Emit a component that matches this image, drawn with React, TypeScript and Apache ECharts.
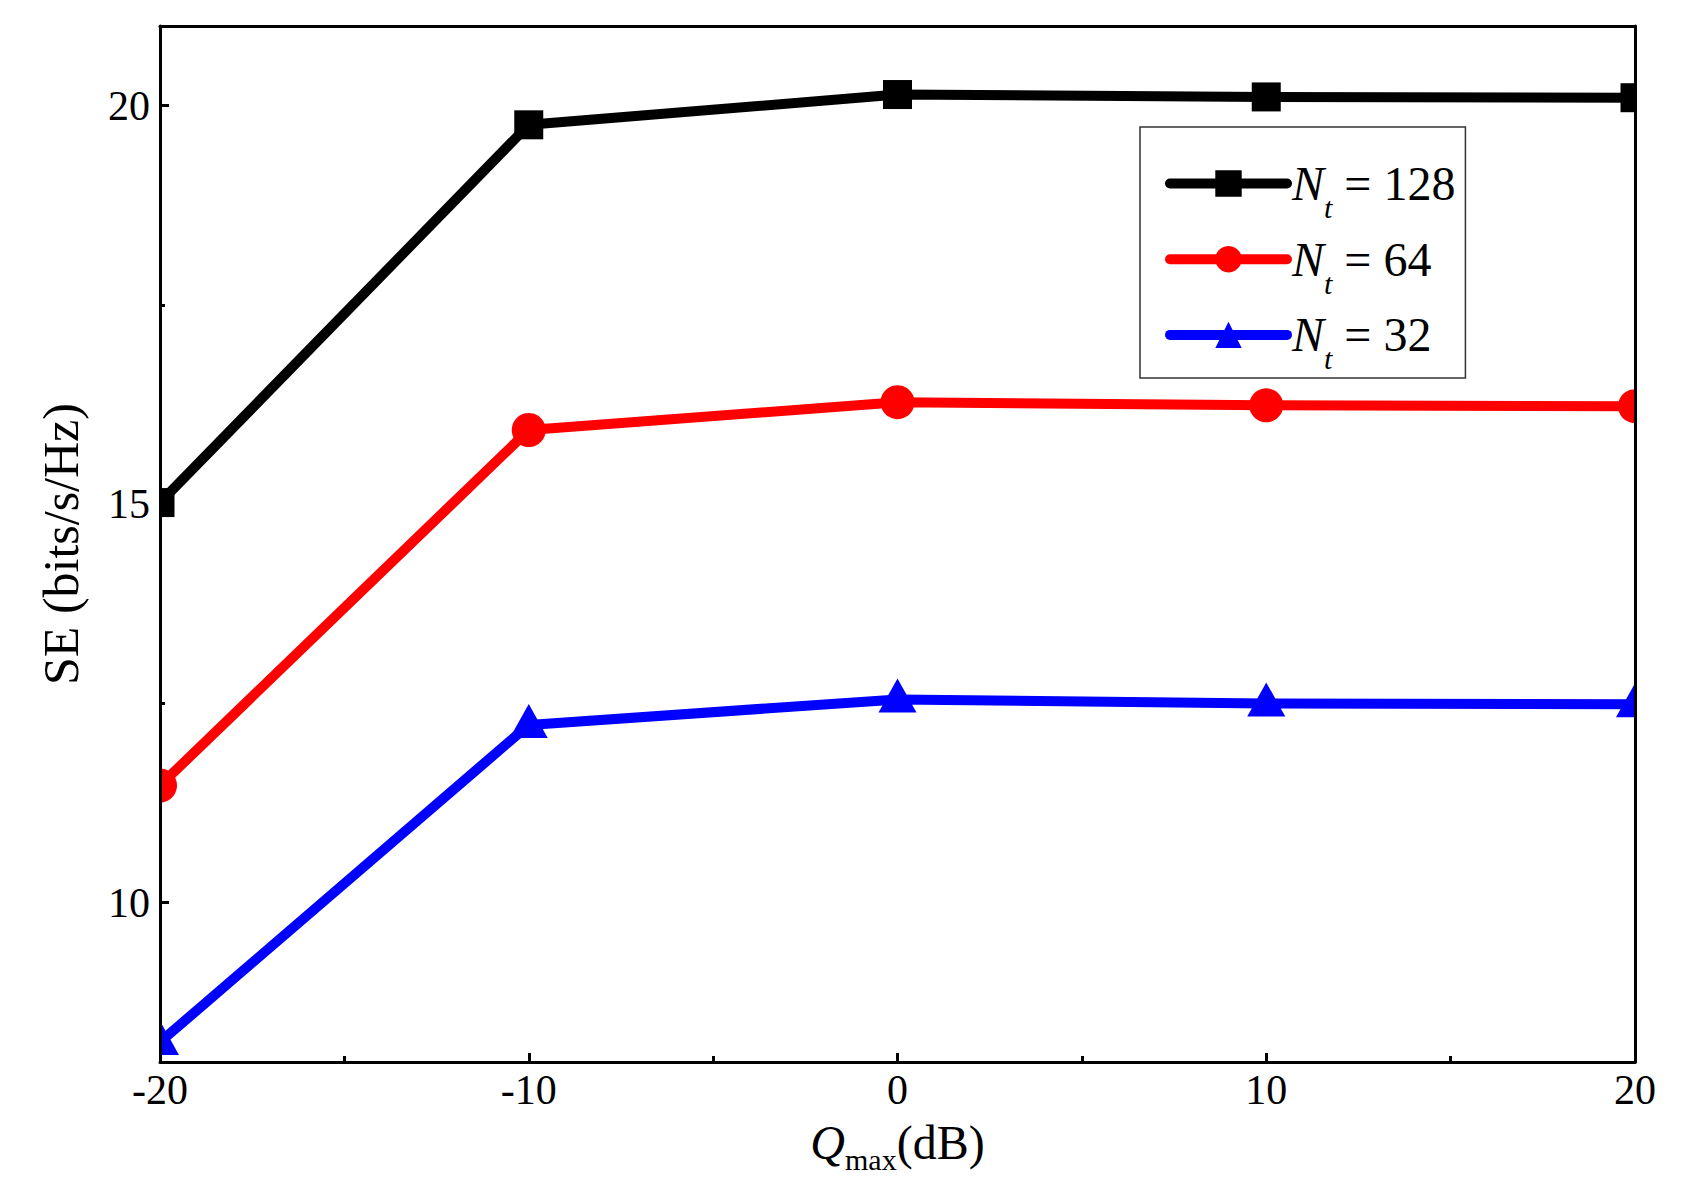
import React, { useEffect, useRef } from "react";
import * as echarts from "echarts";

const xValues = [-20, -10, 0, 10, 20];
const seriesNames = ["Nt = 128", "Nt = 64", "Nt = 32"];
const ntLabels = ["128", "64", "32"];
const se128 = [15.02, 19.76, 20.14, 20.11, 20.1];
const se64 = [11.47, 15.93, 16.28, 16.24, 16.23];
const se32 = [8.25, 12.23, 12.55, 12.5, 12.49];
const yTickValues = [10, 15, 20];
const yMinorTickValues = [12.5, 17.5];
const colors = ["#000000", "#ff0000", "#0000ff"];
const symbols = ["rect", "circle", "triangle"];

export default function App() {
  const ref = useRef<HTMLDivElement>(null);
  useEffect(() => {
    const chart = echarts.init(ref.current!, null, { renderer: "svg" });
    const font = "Liberation Serif";
    const W = 1696;
    const H = 1192;
    const gl = 160;
    const gr = 61;
    const gt = 26;
    const gb = 130;
    const seriesData = [se128, se64, se32];
    const symbolSizes: any[] = [29, 34, [38, 34]];
    const symbolOffsets: any[] = [[0, 0], [0, 0], [0, -4]];
    const axisLineStyle = { color: "#000", width: 3 };
    const mask = (x: number, y: number, w: number, h: number) => ({
      type: "rect",
      shape: { x, y, width: w, height: h },
      style: { fill: "#fff" },
      z: 3,
      silent: true,
    });
    const option: any = {
      animation: false,
      backgroundColor: "#fff",
      textStyle: { fontFamily: font, color: "#000" },
      grid: { left: gl, right: gr, top: gt, bottom: gb },
      graphic: {
        elements: [
          mask(0, 0, gl, H),
          mask(W - gr, 0, gr, H),
          mask(0, 0, W, gt),
          mask(0, H - gb, W, gb),
        ],
      },
      legend: {
        left: 1140,
        top: 127,
        orient: "vertical",
        z: 5,
        padding: [24.5, 10, 4, 25],
        borderColor: "#333",
        borderWidth: 1.5,
        backgroundColor: "#fff",
        itemWidth: 117,
        itemHeight: 33,
        itemGap: 4.7,
        data: seriesNames,
        lineStyle: { width: 10, cap: "round" },
        formatter: (name: string) => {
          const i = seriesNames.indexOf(name);
          return `{n|N}{t|t}{v| = ${ntLabels[i]}}`;
        },
        textStyle: {
          fontFamily: font,
          color: "#000",
          rich: {
            n: { fontFamily: font, fontStyle: "italic", fontSize: 48, lineHeight: 64, verticalAlign: "middle", color: "#000" },
            t: { fontFamily: font, fontStyle: "italic", fontSize: 30, lineHeight: 20, verticalAlign: "top", padding: [41, 0, 0, 0], color: "#000" },
            v: { fontFamily: font, fontSize: 48, lineHeight: 64, verticalAlign: "middle", color: "#000" },
          },
        },
      },
      xAxis: [
        {
          type: "value",
          position: "bottom",
          min: -20,
          max: 20,
          interval: 10,
          z: 4,
          axisLine: { show: true, onZero: false, lineStyle: axisLineStyle },
          axisTick: { show: true, inside: true, length: 9, lineStyle: { color: "#000", width: 3 } },
          minorTick: { show: true, splitNumber: 2, length: 6, lineStyle: { color: "#000", width: 3 } },
          splitLine: { show: false },
          axisLabel: { fontFamily: font, fontSize: 42, lineHeight: 42, color: "#000", margin: 7 },
          name: "{q|Q}{s|max}{d|(dB)}",
          nameLocation: "middle",
          nameGap: 48,
          nameTextStyle: {
            rich: {
              q: { fontFamily: font, fontStyle: "italic", fontSize: 48, lineHeight: 64, verticalAlign: "middle", color: "#000" },
              s: { fontFamily: font, fontSize: 30, lineHeight: 28, verticalAlign: "bottom", color: "#000" },
              d: { fontFamily: font, fontSize: 48, lineHeight: 64, verticalAlign: "middle", color: "#000" },
            },
          },
        },
        {
          type: "value",
          position: "top",
          min: -20,
          max: 20,
          interval: 10,
          z: 4,
          axisLine: { show: true, onZero: false, lineStyle: axisLineStyle },
          axisTick: { show: false },
          axisLabel: { show: false },
          splitLine: { show: false },
        },
      ],
      yAxis: [
        {
          type: "value",
          position: "left",
          min: 8,
          max: 21,
          z: 4,
          axisLine: { show: true, onZero: false, lineStyle: axisLineStyle },
          axisTick: { show: true, inside: true, length: 9, customValues: yTickValues, lineStyle: { color: "#000", width: 3 } },
          axisLabel: { fontFamily: font, fontSize: 42, color: "#000", margin: 10, customValues: yTickValues },
          splitLine: { show: false },
          name: "SE (bits/s/Hz)",
          nameLocation: "middle",
          nameGap: 74,
          nameTextStyle: { fontFamily: font, fontSize: 50, lineHeight: 50, color: "#000" },
        },
        {
          type: "value",
          position: "left",
          min: 8,
          max: 21,
          z: 4,
          axisLine: { show: false, onZero: false },
          axisTick: { show: true, inside: true, length: 5, customValues: yMinorTickValues, lineStyle: { color: "#000", width: 3 } },
          axisLabel: { show: false },
          splitLine: { show: false },
        },
        {
          type: "value",
          position: "right",
          min: 8,
          max: 21,
          z: 4,
          axisLine: { show: true, onZero: false, lineStyle: axisLineStyle },
          axisTick: { show: false },
          axisLabel: { show: false },
          splitLine: { show: false },
        },
      ],
      series: seriesNames.map((name, i) => ({
        name,
        type: "line",
        xAxisIndex: 0,
        yAxisIndex: 0,
        data: xValues.map((x, j) => [x, seriesData[i][j]]),
        symbol: symbols[i],
        symbolSize: symbolSizes[i],
        symbolOffset: symbolOffsets[i],
        showAllSymbol: true,
        color: colors[i],
        itemStyle: { color: colors[i] },
        lineStyle: { color: colors[i], width: 10, join: "bevel" },
        z: 2,
      })),
    };
    chart.setOption(option);
    return () => chart.dispose();
  }, []);
  return (
    <div
      ref={ref}
      style={{ position: "fixed", left: 0, top: 0, width: 1696, height: 1192, background: "#fff" }}
    />
  );
}
